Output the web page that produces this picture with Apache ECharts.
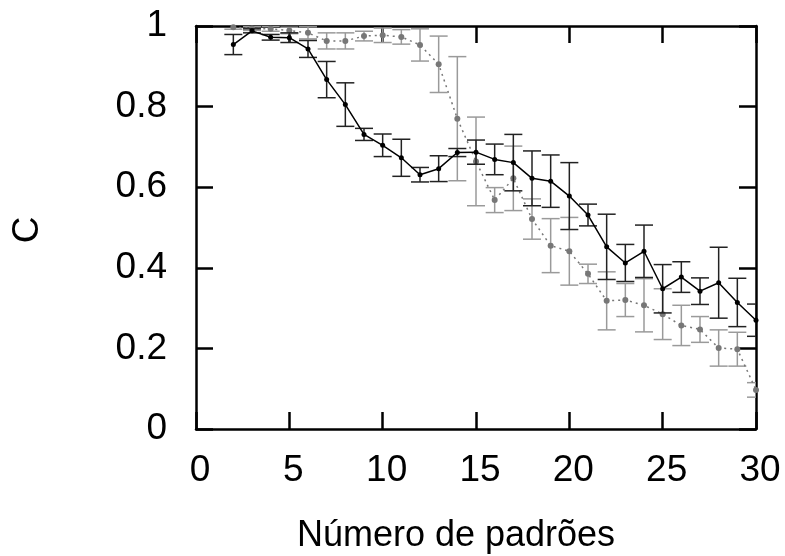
<!DOCTYPE html>
<html>
<head>
<meta charset="utf-8">
<script src="https://cdn.jsdelivr.net/npm/echarts@6/dist/echarts.min.js"></script>
<style>
  html, body { margin: 0; padding: 0; background: #fff; }
  #chart { width: 785px; height: 556px; }
</style>
</head>
<body>
<div id="chart"></div>
<script>
// Number of stored patterns
const patterns = [2, 3, 4, 5, 6, 7, 8, 9, 10, 11, 12, 13, 14, 15, 16, 17, 18, 19, 20, 21, 22, 23, 24, 25, 26, 27, 28, 29, 30];

// Solid black curve: mean C and its error
const solidMean = [0.954, 0.988, 0.972, 0.971, 0.943, 0.867, 0.805, 0.731, 0.704, 0.673, 0.631, 0.646, 0.686, 0.687, 0.669, 0.661, 0.622, 0.615, 0.578, 0.531, 0.452, 0.412, 0.441, 0.348, 0.377, 0.342, 0.363, 0.314, 0.270];
const solidErr  = [0.025, 0.005, 0.007, 0.012, 0.021, 0.045, 0.054, 0.015, 0.028, 0.046, 0.018, 0.032, 0.010, 0.030, 0.038, 0.070, 0.068, 0.065, 0.083, 0.027, 0.081, 0.046, 0.065, 0.060, 0.038, 0.033, 0.088, 0.060, 0.040];

// Dotted grey curve: mean C and its error
const dottedMean = [0.997, 0.994, 0.993, 0.989, 0.983, 0.963, 0.963, 0.975, 0.977, 0.973, 0.953, 0.905, 0.770, 0.664, 0.568, 0.622, 0.521, 0.455, 0.441, 0.385, 0.318, 0.320, 0.307, 0.285, 0.257, 0.247, 0.201, 0.198, 0.097];
const dottedErr  = [0.005, 0.005, 0.006, 0.008, 0.015, 0.020, 0.020, 0.012, 0.018, 0.018, 0.040, 0.070, 0.154, 0.110, 0.031, 0.080, 0.050, 0.067, 0.084, 0.024, 0.072, 0.041, 0.066, 0.063, 0.050, 0.032, 0.045, 0.042, 0.018];

const xTicks = [0, 5, 10, 15, 20, 25, 30];
const yTicks = [0, 0.2, 0.4, 0.6, 0.8, 1];

const FONT = '"Liberation Sans", Arial, Helvetica, sans-serif';

const pts = (m) => patterns.map((x, i) => [x, m[i]]);
const bars = (m, e) => patterns.map((x, i) => [x, m[i] - e[i], m[i] + e[i]]);

function errorBar(color) {
  return function (params, api) {
    const x = api.value(0);
    const lo = api.coord([x, api.value(1)]);
    const hi = api.coord([x, api.value(2)]);
    const half = 9;
    const style = { stroke: color, lineWidth: 1.5 };
    return {
      type: 'group',
      children: [
        { type: 'line', shape: { x1: hi[0], y1: hi[1], x2: lo[0], y2: lo[1] }, style },
        { type: 'line', shape: { x1: hi[0] - half, y1: hi[1], x2: hi[0] + half, y2: hi[1] }, style },
        { type: 'line', shape: { x1: lo[0] - half, y1: lo[1], x2: lo[0] + half, y2: lo[1] }, style }
      ]
    };
  };
}

const frameLine = { show: true, onZero: false, lineStyle: { color: '#000', width: 2.5 } };
const inTick = { show: true, inside: true, length: 17, lineStyle: { color: '#000', width: 2.5 } };

const chart = echarts.init(document.getElementById('chart'), null, { renderer: 'canvas' });
chart.setOption({
  animation: false,
  backgroundColor: '#fff',
  grid: { left: 196, right: 29, top: 26, bottom: 127, containLabel: false },
  xAxis: [
    {
      type: 'value', position: 'bottom', min: xTicks[0], max: xTicks[xTicks.length - 1], interval: 5,
      axisLine: frameLine, axisTick: inTick, splitLine: { show: false },
      axisLabel: { fontFamily: FONT, fontSize: 37, color: '#000', margin: 23, padding: [0, 0, 0, 8] }
    },
    {
      type: 'value', position: 'top', min: xTicks[0], max: xTicks[xTicks.length - 1], interval: 5,
      axisLine: frameLine, axisTick: inTick, splitLine: { show: false }, axisLabel: { show: false }
    }
  ],
  yAxis: [
    {
      type: 'value', position: 'left', min: yTicks[0], max: yTicks[yTicks.length - 1], interval: 0.2,
      axisLine: frameLine, axisTick: inTick, splitLine: { show: false },
      axisLabel: { fontFamily: FONT, fontSize: 37, color: '#000', margin: 29 }
    },
    {
      type: 'value', position: 'right', min: yTicks[0], max: yTicks[yTicks.length - 1], interval: 0.2,
      axisLine: frameLine, axisTick: inTick, splitLine: { show: false }, axisLabel: { show: false }
    }
  ],
  graphic: [
    {
      type: 'text', x: 456, y: 536,
      style: { text: 'Número de padrões', font: '36px ' + FONT, fill: '#000', textAlign: 'center', textVerticalAlign: 'middle' }
    },
    {
      type: 'text', x: 28, y: 230, rotation: Math.PI / 2,
      style: { text: 'C', font: '37px ' + FONT, fill: '#000', textAlign: 'center', textVerticalAlign: 'middle' }
    }
  ],
  series: [
    {
      type: 'custom', name: 'dotted-err', renderItem: errorBar('#9a9a9a'),
      data: bars(dottedMean, dottedErr), encode: { x: 0, y: [1, 2] }, clip: true, z: 1
    },
    {
      type: 'line', name: 'dotted', data: pts(dottedMean), clip: true, z: 2,
      symbol: 'circle', symbolSize: 6, itemStyle: { color: '#777' },
      lineStyle: { color: '#777', width: 1.5, type: [2, 4] }
    },
    {
      type: 'custom', name: 'solid-err', renderItem: errorBar('#222'),
      data: bars(solidMean, solidErr), encode: { x: 0, y: [1, 2] }, clip: true, z: 3
    },
    {
      type: 'line', name: 'solid', data: pts(solidMean), clip: true, z: 4,
      symbol: 'circle', symbolSize: 5, itemStyle: { color: '#000' },
      lineStyle: { color: '#000', width: 1.5 }
    }
  ]
});
</script>
</body>
</html>
